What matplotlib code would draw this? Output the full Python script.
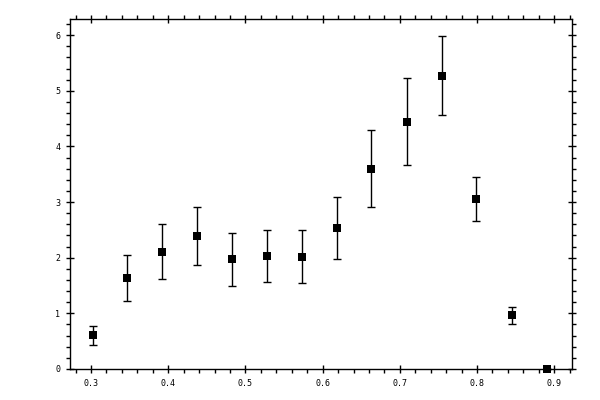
import numpy as np
import matplotlib
matplotlib.use('Agg')
import matplotlib.pyplot as plt
from matplotlib.ticker import MultipleLocator

x = [0.302, 0.347, 0.392, 0.437, 0.482, 0.528, 0.573, 0.618, 0.663, 0.709, 0.754, 0.799, 0.845, 0.890]
y = [0.61, 1.63, 2.10, 2.39, 1.97, 2.03, 2.01, 2.53, 3.59, 4.44, 5.26, 3.05, 0.97, 0.0]
y_hi = [0.77, 2.04, 2.60, 2.91, 2.44, 2.49, 2.49, 3.09, 4.29, 5.23, 5.99, 3.45, 1.11, 0.0]
y_lo = [0.43, 1.22, 1.61, 1.87, 1.49, 1.56, 1.54, 1.97, 2.91, 3.66, 4.56, 2.66, 0.80, 0.0]

y = np.array(y)
err = [y - np.array(y_lo), np.array(y_hi) - y]

plt.rcParams['font.family'] = 'DejaVu Sans Mono'
fig = plt.figure(figsize=(6, 4), dpi=100)
ax = fig.add_axes([0.1167, 0.0775, 0.8366, 0.875])

# error bars then the square markers on top
ax.errorbar(x, y, yerr=err, fmt='none', ecolor='black',
            capsize=3, elinewidth=1, capthick=1, clip_on=False, zorder=3)
ax.plot(x, y, 's', color='black', markersize=5.5, mew=0, clip_on=False, zorder=4)

ax.set_xlim(0.2728, 0.923)
ax.set_ylim(0, 6.29)
ax.xaxis.set_major_locator(MultipleLocator(0.1))
ax.xaxis.set_minor_locator(MultipleLocator(0.02))
ax.yaxis.set_major_locator(MultipleLocator(1))
ax.yaxis.set_minor_locator(MultipleLocator(0.2))
ax.xaxis.set_major_formatter(plt.FuncFormatter(lambda v, p: '%.1f' % v))

for s in ax.spines.values():
    s.set_linewidth(1)
ax.tick_params(which='major', direction='inout', length=6, width=1, labelsize=6,
               top=True, right=True, labelright=False, labeltop=False, pad=4)
ax.tick_params(which='minor', direction='out', length=3, width=1,
               top=True, right=True)

fig.savefig('out.png', dpi=100)
